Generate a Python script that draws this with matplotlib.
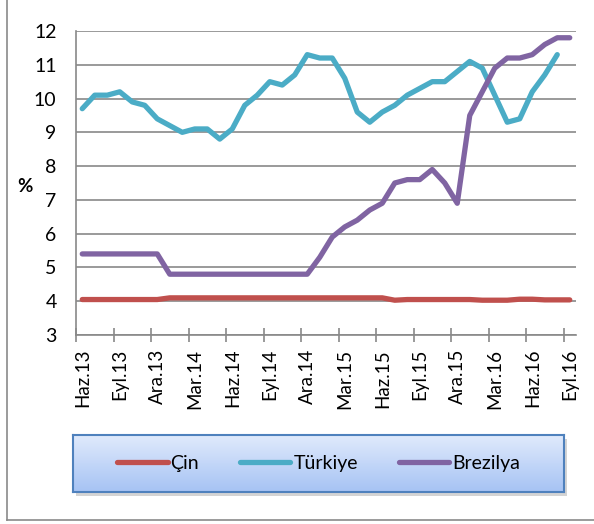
import numpy as np
import matplotlib
matplotlib.use('Agg')
import matplotlib.pyplot as plt
from matplotlib.lines import Line2D
from matplotlib.patches import Rectangle

plt.rcParams['font.family'] = ['Lato', 'DejaVu Sans']

# aylik veriler (Haz.13 - Eyl.16)
aylar = ['Haz.13', 'Tem.13', 'Ağu.13', 'Eyl.13', 'Eki.13', 'Kas.13', 'Ara.13', 'Oca.14', 'Şub.14',
         'Mar.14', 'Nis.14', 'May.14', 'Haz.14', 'Tem.14', 'Ağu.14', 'Eyl.14', 'Eki.14', 'Kas.14',
         'Ara.14', 'Oca.15', 'Şub.15', 'Mar.15', 'Nis.15', 'May.15', 'Haz.15', 'Tem.15', 'Ağu.15',
         'Eyl.15', 'Eki.15', 'Kas.15', 'Ara.15', 'Oca.16', 'Şub.16', 'Mar.16', 'Nis.16', 'May.16',
         'Haz.16', 'Tem.16', 'Ağu.16', 'Eyl.16']

cin = [4.05, 4.05, 4.05, 4.05, 4.05, 4.05, 4.05, 4.1, 4.1, 4.1, 4.1, 4.1, 4.1, 4.1, 4.1, 4.1,
       4.1, 4.1, 4.1, 4.1, 4.1, 4.1, 4.1, 4.1, 4.1, 4.03, 4.05, 4.05, 4.05, 4.05, 4.05, 4.05,
       4.03, 4.03, 4.03, 4.06, 4.06, 4.04, 4.04, 4.04]

turkiye = [9.7, 10.1, 10.1, 10.2, 9.9, 9.8, 9.4, 9.2, 9.0, 9.1, 9.1, 8.8, 9.1, 9.8, 10.1, 10.5,
           10.4, 10.7, 11.3, 11.2, 11.2, 10.6, 9.6, 9.3, 9.6, 9.8, 10.1, 10.3, 10.5, 10.5, 10.8,
           11.1, 10.9, 10.1, 9.3, 9.4, 10.2, 10.7, 11.3]

brezilya = [5.4, 5.4, 5.4, 5.4, 5.4, 5.4, 5.4, 4.8, 4.8, 4.8, 4.8, 4.8, 4.8, 4.8, 4.8, 4.8,
            4.8, 4.8, 4.8, 5.3, 5.9, 6.2, 6.4, 6.7, 6.9, 7.5, 7.6, 7.6, 7.9, 7.5, 6.9, 9.5,
            10.2, 10.9, 11.2, 11.2, 11.3, 11.6, 11.8, 11.8]

grid_renk = '#898989'

fig = plt.figure(figsize=(5.94, 5.24), dpi=100)
ax = fig.add_axes([76/594, 1 - 335/524, 500/594, 304/524])

x = np.arange(len(aylar))
lw = 3.8
ax.plot(x[:len(cin)], cin, color='#C0504D', lw=lw, solid_capstyle='round', solid_joinstyle='round', label='Çin')
ax.plot(x[:len(turkiye)], turkiye, color='#4BACC6', lw=lw, solid_capstyle='round', solid_joinstyle='round', label='Türkiye')
ax.plot(x[:len(brezilya)], brezilya, color='#8064A2', lw=lw, solid_capstyle='round', solid_joinstyle='round', label='Brezilya')

ax.set_xlim(-0.5, len(aylar) - 0.5)
ax.set_ylim(3, 12)
ax.set_yticks(range(3, 13))
ax.grid(axis='y', color=grid_renk, lw=1.2)
ax.set_axisbelow(True)

# tik cizgileri kategori sinirlarinda, etiketler kategori ortasinda
ax.set_xticks(np.arange(-0.5, len(aylar) - 1, 3))
ax.set_xticklabels([])
ax.set_xticks(x[::3], minor=True)
ax.set_xticklabels(aylar[::3], minor=True, rotation=90, fontsize=13.5)
ax.tick_params(axis='x', which='major', direction='inout', length=10, width=1.2, color=grid_renk)
ax.tick_params(axis='x', which='minor', length=0, pad=10)
ax.tick_params(axis='y', length=0, pad=14, labelsize=14)

for s in ['top', 'right']:
    ax.spines[s].set_visible(False)
for s in ['left', 'bottom']:
    ax.spines[s].set_color(grid_renk)
    ax.spines[s].set_linewidth(1.2)

fig.text(25/594, 1 - 187/524, '%', fontsize=13.5, fontweight='bold', ha='center', va='center')

# lejant kutusu (gradyan + golge)
lx0, lx1, ly0, ly1 = 73, 564, 435, 492
golge = Rectangle(((lx0 + 3)/594, 1 - (ly1 + 4)/524), (lx1 - lx0)/594, (ly1 - ly0)/524,
                  transform=fig.transFigure, facecolor='#d4d4d4', edgecolor='none', zorder=-1)
fig.patches.append(golge)
lax = fig.add_axes([lx0/594, 1 - ly1/524, (lx1 - lx0)/594, (ly1 - ly0)/524])
lax.set_zorder(2)
ust = np.array([0xe0, 0xea, 0xfc]) / 255
alt = np.array([0xa6, 0xc3, 0xf4]) / 255
t = np.linspace(0, 1, 64)[:, None]
grad = (ust[None, :] * (1 - t) + alt[None, :] * t)[:, None, :]
lax.imshow(grad, aspect='auto', extent=[0, 1, 0, 1])
lax.set_xticks([])
lax.set_yticks([])
for s in lax.spines.values():
    s.set_color('#4f81bd')
    s.set_linewidth(1.5)

handles, labels = ax.get_legend_handles_labels()
lax.legend(handles, labels, loc='center', ncol=3, frameon=False, fontsize=14,
           handlelength=2.6, handletextpad=0.15, columnspacing=2.1)

# dis cerceve
fig.add_artist(Line2D([7/594, 7/594], [1 - 520/524, 1], transform=fig.transFigure, color='#8a8a8a', lw=1.2))
fig.add_artist(Line2D([7/594, 1], [1 - 520/524, 1 - 520/524], transform=fig.transFigure, color='#8a8a8a', lw=1.2))

fig.savefig('out.png', dpi=100)
